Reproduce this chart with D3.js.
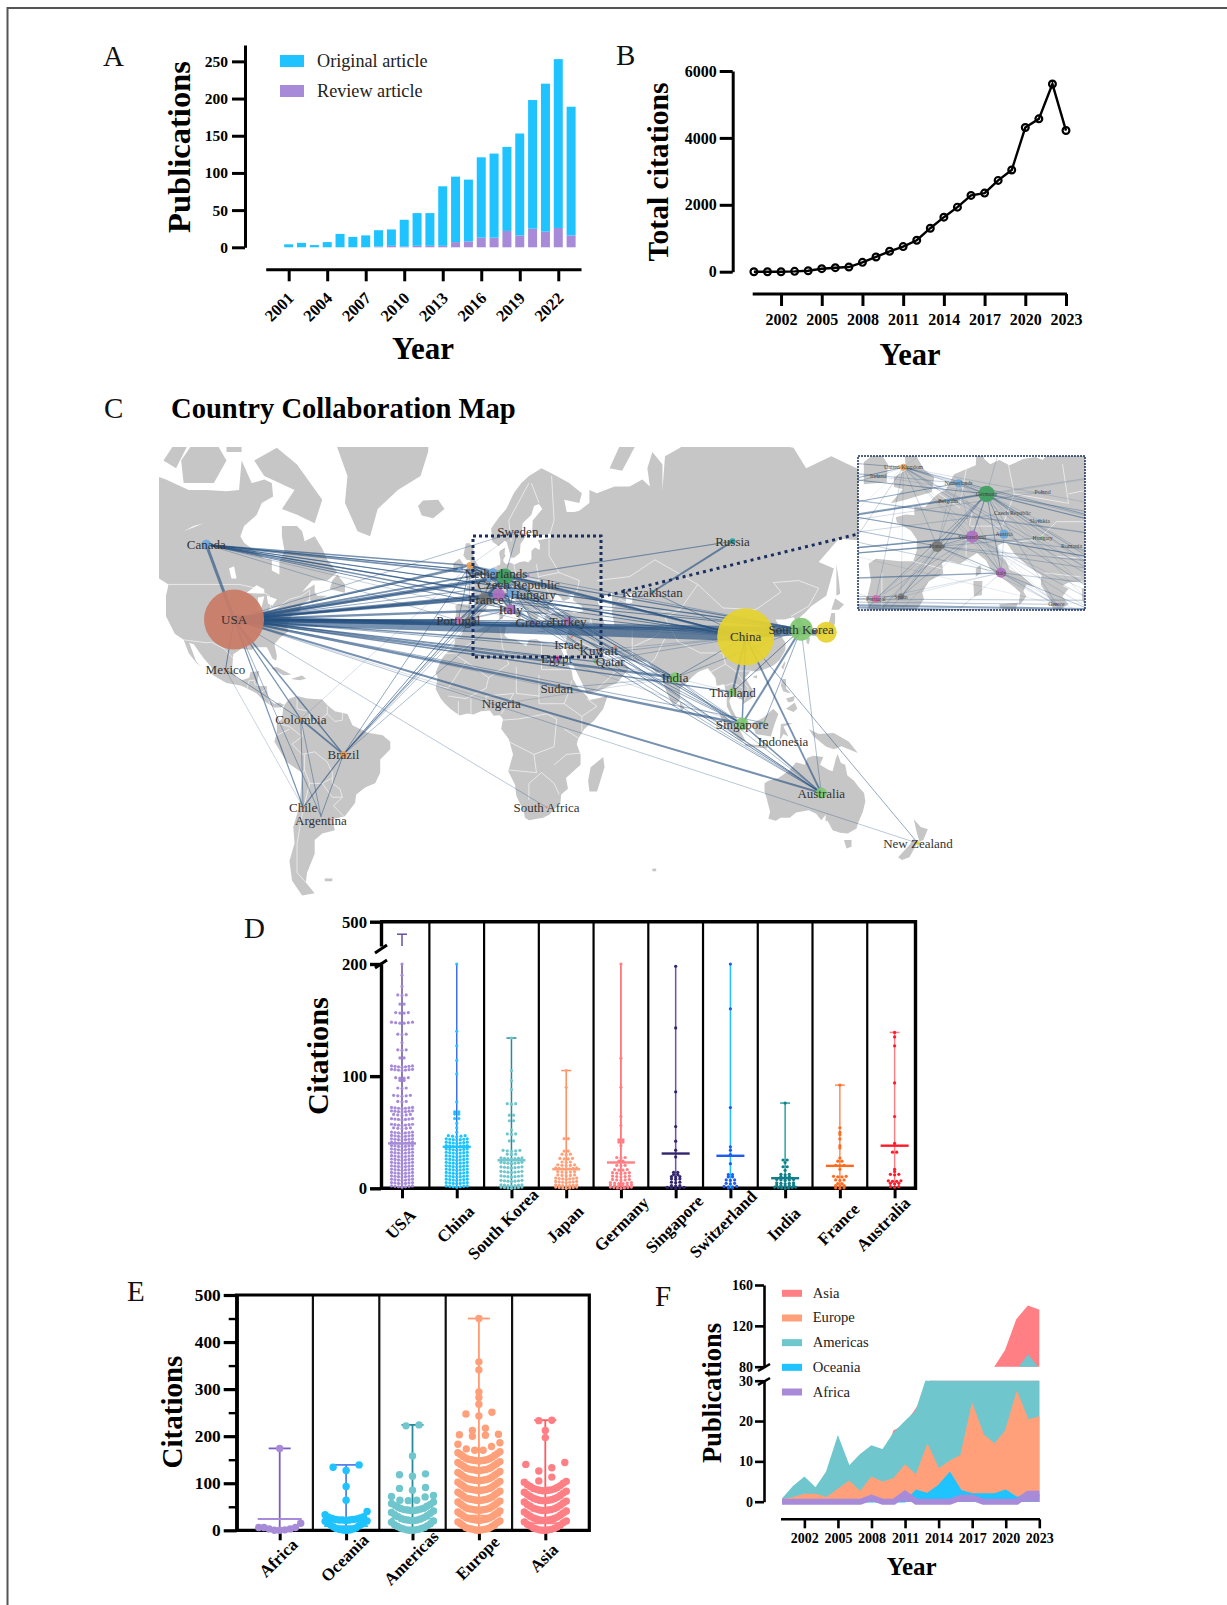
<!DOCTYPE html>
<html lang="en">
<head>
<meta charset="UTF-8">
<title>Publications and citations</title>
<style>
    html, body { margin: 0; padding: 0; background: #fff; }
    svg { display: block; font-family: "Liberation Serif", "Times New Roman", serif; }
</style>
</head>
<body>
<svg id="chart" width="1227" height="1605"></svg>
<script src="https://d3js.org/d3.v7.min.js"></script>
<script>
// panel A
const aYears = [2001,2002,2003,2004,2005,2006,2007,2008,2009,2010,2011,2012,2013,2014,2015,2016,2017,2018,2019,2020,2021,2022,2023];
const aOriginal = [4,6,3,7,18,14,16,22,22,36,44,44,80,88,83,108,113,113,137,173,199,227,173];
const aReview = [0,0,0,0,0,0,0,1,2,1,2,2,2,7,8,13,13,22,16,25,21,26,16];

// panel B
const bYears = [2000,2001,2002,2003,2004,2005,2006,2007,2008,2009,2010,2011,2012,2013,2014,2015,2016,2017,2018,2019,2020,2021,2022,2023];
const bCitations = [0,0,0,10,30,90,120,140,280,440,610,750,940,1300,1630,1930,2280,2350,2730,3040,4310,4570,5610,4220];

// panel C, countries: name, lon, lat, radius, colour
const countries = [
    ["USA",-97,39,30,"#c97b66"],["China",106,33.5,28.5,"#e6d22e"],["South Korea",128,36,11.5,"#80c870"],["Japan",138,35,10.5,"#e6d22e"],
    ["Germany",10.4,51,8.2,"#3f9f60"],["Canada",-108,58.3,5,"#6aa7e0"],["Russia",100.8,59,3,"#2aa3a3"],["Kazakhstan",69,47,2,"#2aa3a3"],
    ["India",78,19,5.5,"#80c870"],["Thailand",100.8,13.5,4,"#80c870"],["Singapore",104.6,1,6.5,"#80c870"],["Indonesia",113.3,1.5,1.5,"#80c870"],
    ["Australia",136,-25.5,5.5,"#80c870"],["New Zealand",174.4,-42,2,"#e6d22e"],["Brazil",-53.6,-11,3.5,"#f0a050"],["Colombia",-70.5,2.9,2,"#f0a050"],
    ["Chile",-69.6,-30.5,1.5,"#f0a050"],["Argentina",-62.5,-33.5,1,"#999999"],["Mexico",-100.4,22,1.5,"#e08060"],["Sweden",15.6,61,1,"#6aa7e0"],
    ["United Kingdom",-3.4,53.7,3.5,"#f0a050"],["Ireland",-7.6,52.8,1.8,"#6aa7e0"],["Netherlands",5.75,52.1,4,"#6aa7e0"],["Belgium",4,50.3,2,"#6aa7e0"],
    ["Czech Republic",14.7,49,1.5,"#6aa7e0"],["France",2.2,45.2,5.7,"#777777"],["Switzerland",8,46.3,6.2,"#b070c0"],["Hungary",19.7,46.2,1.5,"#80c870"],
    ["Austria",13.3,46.6,4.7,"#6aa7e0"],["Italy",12.8,42,5,"#b070c0"],["Poland",19.7,51.2,1.3,"#b070c0"],["Slovakia",19.2,48.1,2,"#6aa7e0"],
    ["Romania",24.5,45.2,1,"#e08060"],["Portugal",-8,38.7,3.8,"#d070b0"],["Spain",-3.8,39,3,"#777777"],["Greece",22,38,1.5,"#a070c0"],
    ["Turkey",35.5,38.5,4,"#a070c0"],["Israel",35.8,31,2,"#6aa7e0"],["Egypt",31,26,3,"#d050b0"],["Kuwait",47.7,29,1,"#e08060"],
    ["Qatar",46.3,24.9,1.5,"#3f9f60"],["Sudan",31,15,0.6,"#999999"],["Nigeria",9,9,0.6,"#999999"],["South Africa",27,-30.5,1,"#e08060"],
    ["Iran",54.2,30,1.5,"#e08060"],["Lebanon",37,33.5,1.2,"#e08060"]
];
const mainLabels = ["USA","China","South Korea","Canada","Russia","Kazakhstan","India","Thailand","Singapore","Indonesia","Australia","New Zealand","Brazil","Colombia","Chile","Argentina","Mexico","Sweden","Netherlands","Czech Republic","France","Hungary","Italy","Portugal","Greece","Turkey","Israel","Egypt","Kuwait","Qatar","Sudan","Nigeria","South Africa"];
const insetLabels = ["United Kingdom","Ireland","Netherlands","Belgium","Germany","Poland","Czech Republic","Slovakia","Hungary","Romania","Austria","Switzerland","France","Italy","Spain","Portugal","Greece"];
// collaboration links: from, to, strength
const links = [
    ["USA","China",9],["USA","South Korea",4],["USA","Japan",3],["USA","Germany",3.5],["USA","United Kingdom",1.8],["USA","Netherlands",1.8],["USA","France",2.4],["USA","Switzerland",3],["USA","Italy",2.4],["USA","Austria",1.2],["USA","Sweden",0.6],["USA","Turkey",1.2],["USA","Greece",1.2],["USA","Israel",1.5],["USA","Portugal",1.5],["USA","Spain",1.2],["USA","Egypt",0.8],["USA","Qatar",1.2],["USA","Kuwait",0.8],["USA","India",2.4],["USA","Singapore",2.4],["USA","Thailand",1.4],["USA","Indonesia",0.7],["USA","Australia",2],["USA","New Zealand",0.5],["USA","Canada",3],["USA","Mexico",1],["USA","Brazil",1.5],["USA","Colombia",1.2],["USA","Chile",1.2],["USA","Argentina",0.7],["USA","South Africa",0.5],["USA","Hungary",1],["USA","Czech Republic",0.8],["USA","Poland",0.7],["USA","Russia",0.4],["USA","Belgium",1],["USA","Ireland",1],["USA","Sudan",0.3],["USA","Nigeria",0.3],
    ["Canada","United Kingdom",1.4],["Canada","Ireland",0.9],["Canada","Germany",1.8],["Canada","Netherlands",1],["Canada","France",1.4],["Canada","Switzerland",1],["Canada","Italy",1],["Canada","China",1.5],["Canada","South Korea",1],["Canada","Japan",0.8],["Canada","Portugal",0.5],["Canada","Greece",0.4],
    ["China","South Korea",4.5],["China","Japan",3],["China","Singapore",1.5],["China","Thailand",2],["China","Australia",1.8],["China","Germany",2],["China","United Kingdom",1.5],["China","France",1],["China","Italy",1],["China","India",0.8],["China","Kazakhstan",0.8],["China","New Zealand",0.8],["China","Switzerland",1],["China","Netherlands",0.8],["China","Turkey",0.6],["China","Egypt",0.5],["China","Qatar",0.5],["China","Kuwait",0.4],["China","Portugal",0.3],
    ["South Korea","Japan",2],["South Korea","Singapore",2],["South Korea","Thailand",1],["South Korea","Indonesia",0.8],["South Korea","India",0.6],["South Korea","Germany",1.2],["South Korea","France",1],["South Korea","Australia",0.6],["South Korea","United Kingdom",0.6],["South Korea","Switzerland",0.9],
    ["Russia","Kazakhstan",2],["Russia","Germany",0.7],["Germany","Sweden",0.7],["United Kingdom","Sweden",0.3],
    ["India","Germany",0.8],["India","United Kingdom",0.8],["India","Italy",0.7],["India","Singapore",0.6],["India","Australia",0.6],["India","Sudan",0.5],["India","Qatar",0.4],["India","France",0.6],["India","Switzerland",0.5],["India","Thailand",0.3],["India","Nigeria",0.3],
    ["Singapore","Australia",1.5],["Singapore","United Kingdom",0.8],["Singapore","Germany",1],["Singapore","Switzerland",0.8],["Singapore","France",0.5],["Singapore","Turkey",0.4],["Singapore","Italy",0.4],["Singapore","Indonesia",0.7],["Singapore","Egypt",0.3],
    ["Australia","Germany",1],["Australia","United Kingdom",1],["Australia","Italy",0.8],["Australia","Switzerland",0.6],["Australia","Netherlands",0.5],
    ["Brazil","United Kingdom",0.8],["Brazil","Germany",0.8],["Brazil","Portugal",1],["Brazil","France",0.6],["Brazil","Italy",0.6],["Brazil","Spain",0.7],["Brazil","Colombia",1.8],["Brazil","Chile",1.2],["Brazil","Argentina",0.8],["Brazil","Switzerland",0.5],
    ["Colombia","Chile",0.8],["Colombia","Argentina",0.7],["Colombia","United Kingdom",0.3],["Mexico","Colombia",0.8],["Mexico","Chile",0.4],
    ["Germany","United Kingdom",1.2],["Germany","Netherlands",1.5],["Germany","France",1.5],["Germany","Switzerland",2],["Germany","Austria",1.5],["Germany","Italy",1.5],["Germany","Belgium",0.8],["Germany","Portugal",1.2],["Germany","Spain",1.5],["Germany","Czech Republic",0.8],["Germany","Slovakia",0.6],["Germany","Hungary",0.5],["Germany","Greece",0.8],["Germany","Turkey",0.6],["Germany","Poland",0.4],["Germany","Romania",0.4],["Germany","Ireland",0.5],["Germany","Israel",0.5],["Germany","Qatar",0.5],
    ["France","United Kingdom",0.8],["France","Italy",1],["France","Switzerland",1.2],["France","Spain",0.8],["France","Netherlands",0.6],["France","Belgium",0.5],["France","Austria",0.5],["France","Portugal",0.5],
    ["Switzerland","Italy",1.2],["Switzerland","Netherlands",0.5],["Switzerland","United Kingdom",0.6],["Switzerland","Austria",0.8],["Switzerland","Spain",1],["Switzerland","Portugal",0.8],["Switzerland","Greece",0.6],
    ["Italy","Austria",0.7],["Italy","Spain",0.5],["Italy","Portugal",0.6],["Italy","Greece",0.4],["Italy","United Kingdom",0.5],["Italy","Hungary",0.3],["Italy","Netherlands",0.5],
    ["United Kingdom","Netherlands",0.7],["United Kingdom","Ireland",0.5],["United Kingdom","Portugal",0.8],["United Kingdom","Spain",0.5],["United Kingdom","Greece",0.4],["Greece","Turkey",0.3]
];

// land outlines in lon/lat
const landRings = [
    [[-168,66],[-162,67],[-156,71],[-141,70],[-133,69.5],[-128,70],[-124,69.5],[-115,68],[-108,68],[-100,67.8],[-95,68],[-94,72],[-90,69],[-85,69.5],[-82,69],[-81.5,67],[-86,66],[-88,64],[-93,62],[-94.5,60],[-93,58.7],[-88,56.7],[-85,55.3],[-82,55],[-82,52.5],[-79,51.5],[-79,54.7],[-77,57],[-78,60],[-78,62],[-72,62],[-70,61],[-69,59],[-65,60],[-62,57.5],[-60,55],[-56,52],[-60,50],[-66,50],[-70,47],[-65,49],[-65,47],[-64,46],[-60,46],[-66,44],[-67,45],[-70,43.5],[-71,41.5],[-74,40.5],[-76,37],[-75.5,35.2],[-79,33],[-81,31],[-80,27],[-80.3,25.2],[-81.8,26],[-82.8,28],[-84,30],[-89,30],[-90,29],[-94,29.5],[-97.3,27.5],[-97.8,22],[-96,19],[-94,18],[-91,19],[-90.5,21],[-87,21.5],[-88,16],[-84,15.8],[-83.5,11],[-81,9],[-79,9.5],[-77,8.5],[-78.5,7.5],[-81,7.5],[-85,10],[-88,13],[-94,16],[-100,17],[-105.5,20],[-106,23],[-109,26],[-113,31],[-114.8,31.5],[-112,25],[-110,23],[-112,24.5],[-115,28],[-117,32.5],[-120.5,34.5],[-124,40],[-124,46],[-123,49],[-128,51],[-131,55],[-135,58],[-140,60],[-148,60.5],[-152,59],[-158,56],[-165,54.5],[-160,58.5],[-165,61],[-165,64]],
    [[-80,73.5],[-72,71.5],[-62,66.5],[-65,62.5],[-72,64],[-78,65],[-73,68],[-85,70],[-89,72]],
    [[-117,69],[-105,69],[-100,72],[-104,74],[-112,74.5],[-118,72]],[[-125,72],[-118,75],[-115,74],[-120,71]],[[-92,74],[-80,74],[-80,75.5],[-92,75.5]],[[-90,76],[-70,80],[-60,82],[-90,82]],[[-100,73],[-94,73],[-94,75],[-100,75]],
    [[-59,47.7],[-53,46.8],[-53,49],[-56,51.5],[-58,50]],[[-85,22],[-80,23],[-74.3,20.2],[-77.5,19.9],[-82,22.5]],[[-74.4,18.5],[-70,19.8],[-68.4,18.6],[-71,18]],
    [[-73,78.2],[-55,82],[-30,83.5],[-18,80],[-20,73],[-23,70],[-32,68],[-40,65],[-43,60],[-48,61],[-53,66],[-52,70],[-58,75],[-68,76]],
    [[-24,65.5],[-22,66.4],[-16,66.5],[-13.5,65],[-18,63.4],[-22.5,63.9]],
    [[-77,8.5],[-75,11],[-72,12],[-68,11],[-62,10.7],[-60,8.5],[-57,6],[-52,5],[-50,0.5],[-44,-2.5],[-38,-3.5],[-35,-6],[-35,-9],[-39,-13],[-39,-18],[-41,-22],[-45,-23.5],[-48.5,-26],[-49,-29],[-53,-33.5],[-58,-34.5],[-57,-38],[-62,-39],[-65,-41],[-65,-45],[-68,-50],[-68.5,-52.5],[-65,-55],[-70,-55.5],[-74,-52],[-75,-47],[-73,-42],[-73.5,-37],[-71,-30],[-70,-18],[-76,-14],[-81,-6],[-80,-2.5],[-80,1],[-78,3],[-77.5,7]],
    [[-61,-51.5],[-58,-51.5],[-58,-52.2],[-61,-52.2]],
    [[-5.9,35.8],[-2,35.2],[3,36.9],[10,37.3],[11,36.9],[10.3,34],[11.5,33],[15,32.4],[19,30.3],[20,32.5],[23,32.7],[25,31.7],[29,31],[32.3,31.3],[32.5,29.9],[34,27],[35.5,24],[37,21.5],[37.5,18.5],[39.5,15.2],[43,12],[44,10.5],[51.2,11.9],[49.5,7],[46,2.5],[42,-1],[39.5,-5],[39,-7],[40.5,-11],[40.5,-15],[37,-18],[34.7,-20],[35.5,-24],[32.8,-26],[32.5,-29],[28,-33],[25.6,-34],[20,-34.8],[18.4,-34],[18,-32],[15,-26.5],[14.5,-22.5],[11.8,-17.5],[13.7,-11],[13,-8.5],[12,-5],[9,-1],[9.7,3],[8.5,4.5],[6,4.3],[4.5,6.3],[1,6],[-2,4.8],[-4.5,5.2],[-7.5,4.4],[-11,6.8],[-13.3,9],[-15,11],[-17,14.7],[-16.2,19],[-17,21],[-14.5,26],[-13,27.7],[-9.7,30],[-9.3,32.5],[-6.7,34]],
    [[49.5,-12],[50,-16],[47,-25],[44,-25],[43.5,-21],[44.5,-16]],
    [[-9,37],[-9.5,38.7],[-8.8,41],[-9.2,43.1],[-8,43.7],[-4,43.4],[-1.8,43.4],[-1.2,44.7],[-1.2,46],[-2.2,47],[-4.5,47.9],[-4.7,48.5],[-3,48.8],[-1.6,48.7],[-1.6,49.7],[0.2,49.6],[1.6,50.6],[2.5,51.1],[3.6,51.4],[4.3,52.2],[5,53],[7,53.5],[8.6,53.9],[8.7,55],[8.2,56.5],[8.5,57],[10.6,57.7],[10.3,56.3],[10.8,56],[9.8,55],[10,54.5],[11,54],[12.5,54.4],[14.2,53.9],[16.5,54.5],[18.5,54.7],[19.7,54.4],[21,55.2],[21,57],[22.5,57.7],[24.3,57.2],[24.4,58.4],[23.5,59.2],[28,59.6],[30,60],[28,60.5],[25,60.2],[22.8,59.9],[21.3,60.8],[21.5,63],[25.3,65],[24,65.8],[22,65.5],[21,64],[17.5,62.5],[17.2,60.8],[18.8,60],[16.7,58.5],[16.4,56.5],[14.3,55.5],[13,55.4],[11.2,58.8],[10.3,59.2],[8,58],[5.5,58.9],[5,61.5],[8,63.5],[11,65],[14,67.5],[17,69],[20,70],[25,71],[31,70],[36,69],[41,67.5],[40,66],[34,66.5],[35,64.5],[38,64.5],[40,64.7],[44,66],[44,68],[47,67.5],[54,68.5],[60,68.5],[65,69.5],[68,68.5],[67,71],[69,73],[73,71.5],[73,68],[74,72.5],[80,73.5],[87,75],[100,76.5],[105,77.5],[113,74],[125,73.5],[130,71],[140,72.5],[150,71],[160,70],[170,70],[180,69],[180,65],[178,62.5],[170,60],[163,60],[163,56],[157,51],[156,57],[160,61],[155,59],[143,59.5],[135,54.5],[141,53],[138,46],[132,43],[129.5,41],[127.5,39.7],[129.3,36],[126.5,34.5],[126.5,37.5],[125,39.7],[121.5,39],[117.8,39],[119,37.5],[122.5,37],[120.5,36],[119.3,34.8],[121.8,31.5],[121.8,29],[119.5,25.5],[117,23.5],[114,22.3],[110.5,21.3],[108,21.5],[105.8,19],[109,14],[109,11.5],[105,8.8],[105,10.5],[103,11],[100.9,13.5],[99.5,10],[100.5,7],[103.5,1.5],[101,3],[98.5,8],[98.5,12],[97.5,16.5],[94.5,16],[94,19],[91,22.5],[88.5,21.7],[87,21],[85,19.5],[82,16.5],[80,15],[80,11],[79,9.5],[77.5,8],[76,10.5],[74.5,14],[73,18],[72.7,21],[70.5,20.8],[69,22.5],[67,25],[61,25],[57,26],[56.5,27],[51,28],[48,30],[50,26],[51.5,24.5],[54,24],[56.3,26],[59.8,22.5],[55,17],[45,13],[43,13],[39,21],[35,28],[34.5,31.5],[36,36.5],[34,36.2],[32,36.1],[30.5,36.5],[28.5,36.7],[27.3,37],[26.3,38.5],[26.2,40],[29,40.5],[29,41],[31.5,41.2],[35,42],[38,41],[41.5,41.5],[41,43],[37.5,44.7],[38,46.5],[39,47],[35,46],[36.5,45.2],[33.5,44.5],[32.7,45.4],[30.7,46.5],[28.7,44.5],[28,43],[28,41.7],[29,41.2],[27,40.7],[26.2,41],[24,40.8],[23,40.4],[24,40],[23,39],[24,38],[23,37.5],[22.5,36.5],[21.5,37],[21,38.5],[19.4,40.5],[19.5,41.7],[17,43],[15,44.3],[14,45.3],[13.6,45.7],[12.3,45.3],[12.4,44.3],[13.6,43.5],[14.2,42.4],[16,41.8],[18.4,40.2],[17,40.5],[16.5,39.7],[17,39],[16,38],[15.7,38],[16,39.5],[15,40.2],[14,40.8],[12.3,41.7],[11,42.5],[10.3,43.5],[8.8,44.4],[7.5,43.8],[6,43.1],[4,43.5],[3,43.2],[3.2,41.9],[0.8,41],[-0.3,39.5],[0,38.7],[-0.8,37.7],[-2,36.8],[-4.5,36.7],[-5.6,36],[-6.3,36.7],[-7.4,37.2]],
    [[-5.5,50],[-3.5,50.3],[1.3,51.2],[1.7,52.7],[0,53.5],[-1.5,55],[-2,56],[-2,57.5],[-3.5,58.6],[-5,58.6],[-6,56],[-4.8,55],[-3.2,54.9],[-3,53.4],[-5,52.7],[-5,51.7],[-3.5,51.5]],[[-10,52],[-6.2,52.2],[-6,54],[-7.5,55.3],[-10,54.2]],
    [[8.6,41.5],[9.5,42],[9.4,43],[8.6,42.5]],[[8.3,39],[9.6,39.2],[9.7,41],[8.2,41]],[[12.5,38],[15.6,38.2],[15,36.7],[12.6,37.6]],[[23.5,35.5],[26.3,35.3],[26.3,35],[23.5,35.2]],
    [[52,71],[57,70.7],[68,76.5],[60,76]],[[142,54],[143,50],[143.5,46.5],[142,46],[142,50]],[[130.9,34],[136,33.5],[140,35],[141.5,38],[141.5,41],[140,41],[139,38],[136,36.5],[132,35.5]],[[140,42],[141.5,45.3],[145,43.5],[143,42]],[[130,33],[131.7,33.3],[131,31],[130.2,31.3]],[[120.2,23],[121.5,25],[121.8,24.5],[120.9,22]],[[108.7,19.3],[110.5,20],[110.5,18.7]],[[79.8,8],[80,9.7],[81.8,7.5],[80.5,6]],
    [[95.3,5.5],[98,4],[104,-2],[106,-5.8],[104,-5.5],[100,-2],[97,2]],[[105.5,-6.8],[114.5,-7.7],[114.5,-8.7],[106,-7.7]],[[109,1.5],[113,3.5],[117,7],[119,5],[117.5,1],[116,-4],[110,-3],[109,0]],[[119.5,-5.5],[120,1],[125,1.5],[121,0],[123,-4],[121,-3]],[[131,-1],[135,-3],[141,-2.6],[147,-6],[150.5,-10.5],[144,-7.8],[141,-9],[138,-8],[133,-4]],[[120.5,18.5],[122,18.5],[122,15],[124,13],[121,13.8],[120,16]],[[122,7],[125.5,9.5],[126.5,7],[125,5.7]],[[122,11],[125.5,12],[125,10],[123,9.5]],
    [[113.5,-22],[115,-21],[119,-20],[122,-18],[123.5,-17],[126,-14],[129.5,-15],[130.5,-12.3],[133,-11.5],[136.8,-12],[135.5,-15],[139,-17],[140.5,-17.5],[141.7,-13],[142.5,-10.8],[143.8,-14.3],[145.5,-15],[146.3,-19],[149,-21],[151,-23.5],[153,-25.5],[153.5,-28.5],[152.5,-32],[150.5,-36],[150,-37.5],[146.5,-39],[143.5,-38.8],[140.5,-38],[138.5,-35],[137.7,-35.2],[137.8,-33],[136,-34.8],[134,-32.7],[131,-31.5],[126,-32.3],[123.5,-34],[119.8,-34],[118,-35],[115,-34.3],[115.7,-32],[114.2,-27],[113.5,-25]],
    [[145,-41],[148,-41],[148,-43],[146,-43.5]],[[172.7,-34.5],[175.5,-37],[178.3,-37.7],[176.5,-41],[175,-41.5],[174,-39]],[[172.5,-40.7],[174.3,-41.7],[171,-46],[168,-46.7],[166.5,-46],[171,-42.5]],[[69,-49],[70.5,-49],[70.5,-49.7],[69,-49.7]]
];
const lakeRings = [
    [[-92,46.8],[-88,48.8],[-85,47.7],[-85,46.6],[-88,46.6]],[[-87.7,41.8],[-86.3,42],[-85,45.8],[-87.5,45.5]],[[-84,46],[-80,45],[-81.7,43.2],[-83.5,43.7]],[[-83,41.6],[-79,42.8],[-79,43],[-83,42.2]],
    [[47,45],[53,46.8],[53,41],[54,37],[50,37.5],[49,40.5]],[[58.5,46.5],[61,46.5],[61,44],[58.5,44]],[[-98,50.5],[-96,50.5],[-97,53.5],[-99,53]],[[-117,61],[-109,62.5],[-113,62]]
];
const borderLines = [
    [[-123,49],[-95,49],[-88,48],[-83,46],[-82.5,42.5],[-79,43],[-75,45],[-70,46],[-67,47.5],[-67,45]],[[-141,70],[-141,60],[-130,55]],[[-117,32.5],[-108,31.5],[-106,31.7],[-101,29.5],[-97.3,26]],[[-92,14.5],[-91,18],[-89,18],[-88.5,16]],[[-83.5,15],[-87,13]],[[-83,9],[-83,11]],
    [[-72,12],[-72,7],[-67,6],[-67,1.5]],[[-60,8],[-60,5],[-64,2],[-70,1.5],[-70,-4],[-74,-7],[-70,-11],[-65,-10],[-60,-14],[-58,-18],[-58,-22],[-55,-24],[-54,-27],[-57.5,-30],[-53.5,-33.5]],[[-79,1],[-75,0],[-70,-4]],[[-80,-3.5],[-75,-1]],[[-69,-11],[-69,-17],[-70,-18]],[[-69,-17],[-67,-22],[-70,-33],[-72,-42],[-72,-50],[-68.5,-52.5]],[[-67,-22],[-62,-22],[-58,-20]],[[-62,-22],[-58,-27],[-54,-27]],[[-60,5],[-57,2],[-54,2.5],[-54,5.5]],
    [[-2,35],[-2,32],[-8.7,28],[-13,27.7]],[[-8.7,27],[-5,25],[-12,15],[-16.5,16]],[[8.5,37],[9.5,30],[12,24],[4,19],[-5,25]],[[25,31.5],[25,22],[37,22]],[[24,20],[24,9],[34,9],[36,14],[37,18]],[[15,23],[15,13],[24,12]],[[3,12],[14,13],[9,5]],[[3,12],[3,6.5]],[[4,19],[3,15],[-5,11],[-12,12]],[[-8,4.5],[-8,10]],[[-3,5],[-3,11]],[[9,2.5],[16,3],[27,5],[31,3],[30,-8],[22,-11],[12,-6]],[[12,-17],[23,-18],[22,-11]],[[30,-15],[35,-11],[40.5,-10.5]],[[30,-22],[32,-26]],[[20,-28],[20,-22],[25,-18],[30,-22]],[[34,9],[41,4],[47,8],[43,11]],[[34,-1],[39.5,-4.5]],[[41,4],[41,-2]],
    [[74,39.5],[80,42],[87,49],[97,42.5],[110,42],[120,47],[117,49.5],[127,50],[135,48],[131,43],[124,40]],[[47,50],[60,51],[70,55],[87,49]],[[53,42],[56,45],[62,43],[70,41],[80,42]],[[74,39.5],[79,32],[88,28],[97,28],[98,24],[102,21.5],[108,21.5]],[[74,33],[70,26],[68,24]],[[44.5,39.5],[46,33],[48,30]],[[61,37],[61,25]],[[61,37],[54,37]],[[61,30],[71,34],[74,37]],[[36,36.5],[44,37],[44.5,39.5]],[[35,29],[39,32],[47,29],[51,24]],[[45,13],[52,19],[55,22]],[[98,24],[92,21]],[[98,16],[101,17],[105,15],[103,11]],[[102,21.5],[107,15],[105.5,10.5]],
    [[28,60],[28,56],[32,52],[40,50],[39,47]],[[24,51],[32,52]],[[14,54],[15,51],[24,50],[23,54]],[[7,53.5],[6,50],[8,49],[7.5,47.5],[13,47.5],[15,51]],[[-1.8,43.4],[3,42.5]],[[-7,42],[-7,37]],[[7,44],[7,46],[13,46.5]],[[13.5,45.5],[19,46],[22,48],[27,48],[29,45]],[[22,44],[28.5,43.7]],[[20,42],[26,41.5]],[[2.5,51],[6,49.5]],[[13,59],[12,63],[20,69]],[[24,66],[21,69]],[[28,60],[30,63],[29,70]]
];

// panel D, bins of [citations, papers]
const dCategories = ["USA","China","South Korea","Japan","Germany","Singapore","Switzerland","India","France","Australia"];
const dUsa = [[200,1],[190,1],[180,1],[172,3],[164,2],[156,4],[147,6],[137,3],[130,1],[123,3],[116,2],[108,7],[105,7],[98,4],[96,2],[89,3],[82,5],[77,3],[71,7],[68,7],[65,5],[61,7],[56,7],[53,5],[49,7],[46,7],[43,7],[40,7],[37,7],[34,7],[31,7],[28,7],[25,7],[22,7],[19,7],[16,7],[13,7],[10,7],[7,7],[4,7],[1,7]];
const dChina = [[200,1],[140,1],[127,1],[114,1],[102,1],[77,1],[68,2],[66,2],[62,2],[58,1],[54,1],[50,1],[46,5],[43,7],[40,7],[37,7],[34,7],[31,7],[28,7],[25,7],[22,7],[19,7],[16,7],[13,7],[10,7],[7,7],[4,7],[1,7]];
const dKorea = [[134,1],[105,1],[96,1],[88,1],[75,3],[65,2],[60,2],[52,1],[48,3],[42,2],[33,5],[30,3],[26,7],[22,7],[18,7],[14,7],[10,7],[6,7],[2,7],[0,7]];
const dJapan = [[105,1],[90,1],[44,2],[33,2],[30,3],[26,4],[23,3],[20,5],[17,7],[14,5],[11,5],[8,7],[5,7],[2,7],[0,7]];
const dGermany = [[200,1],[116,1],[90,1],[64,1],[56,1],[43,2],[41,2],[38,1],[27,3],[24,2],[20,3],[16,4],[13,5],[10,5],[7,5],[4,6],[2,6],[0,7]];
const dSingapore = [[198,1],[143,1],[86,1],[55,1],[42,1],[34,1],[28,1],[14,2],[12,2],[10,3],[8,3],[5,3],[2,3],[0,5]];
const dSwitzerland = [[200,1],[160,1],[72,1],[37,1],[34,1],[30,1],[22,1],[12,2],[10,2],[7,3],[4,3],[1,4],[0,2]];
const dIndia = [[76,1],[25,2],[23,1],[19,2],[16,1],[12,3],[10,3],[7,5],[4,5],[2,5],[0,7]];
const dFrance = [[92,1],[54,1],[50,1],[48,1],[44,1],[38,1],[36,1],[27,1],[24,2],[20,3],[17,1],[10,4],[7,3],[4,2],[2,3],[0,3]];
const dAustralia = [[139,1],[135,1],[127,1],[94,1],[64,1],[40,1],[32,2],[17,1],[15,1],[12,3],[6,4],[4,3],[1,3]];
const dBins = [dUsa,dChina,dKorea,dJapan,dGermany,dSingapore,dSwitzerland,dIndia,dFrance,dAustralia];
const dMedian = [40,37,25,17,23,31,29,9,20,38];
const dMax = [348,200,134,105,200,198,200,76,92,139];
const dDotColors = ["#a78bd8","#1ec3ff","#70c6cd","#ffa07a","#ff7f85","#33246e","#1f5bf0","#0f7f8a","#ff6a1f","#ff1a2a"];
const dLineColors = ["#6a4fa0","#3a6ff0","#2a8a9a","#ff8c5a","#ff5a5f","#6a4fc0","#1ec3ff","#2aa3a8","#ff8c5a","#ff7f85"];

// panel E, citations of single papers
const eCategories = ["Africa","Oceania","Americas","Europe","Asia"];
const eAfrica = [174,15,6,6,6,3,3,1,0,0];
const eOceania = [139,134,127,93,64,40,33,29,28,26,25,24,23,23,22,22,22,21,20,19,17,15,13,11,9,7,5,4,3,2,1,1,0,0];
const eAmericas = [224,222,158,120,118,115,91,89,85,74,72,71,64,64,63,60,57,55,53,51,49,47,46,45,44,43,43,42,42,41,38,36,33,31,29,27,25,24,23,22,22,21,21,20,17,14,12,10,8,6,5,4,3,2,1,1,0,0];
const eEurope = [450,358,341,294,282,268,251,247,243,217,212,204,203,202,200,186,183,178,173,170,170,
    167,165,163,161,159,157,155,153,152,151,150,150,149,149,148,148,147,
    146,144,142,140,138,136,134,132,131,130,129,129,128,128,127,127,
    125,123,121,119,117,115,113,111,110,109,108,108,107,107,106,106,105,
    104,102,100,98,96,94,92,90,89,88,87,87,86,86,85,85,84,
    83,81,79,77,75,73,71,69,68,67,66,66,65,65,64,64,63,
    62,60,58,56,54,52,50,48,47,46,45,45,44,44,43,43,42,
    41,39,37,35,33,31,29,27,26,25,24,24,23,23,22,22,21,
    20,18,16,14,12,10,8,6,5,4,3,3,2,2,1,0,0];
const eAsia = [234,233,212,197,144,140,133,126,113,105,
    104,102,100,97,95,93,91,89,88,87,86,85,85,84,84,
    83,81,79,76,74,72,70,68,67,66,65,64,64,63,63,
    62,60,58,55,53,51,49,47,46,45,44,43,43,42,42,
    41,39,37,34,32,30,28,26,25,24,23,22,22,21,21,
    20,18,16,13,11,9,7,5,4,3,2,1,1,0,0];
const eValues = [eAfrica,eOceania,eAmericas,eEurope,eAsia];
const eMedian = [24,9,25,31,15];
const eMax = [174,139,224,450,234];
const eDotColors = ["#a78bd8","#1ec3ff","#70c6cd","#ffa07a","#ff7f85"];
const eLineColors = ["#7b5fc0","#5a7ff0","#2a8a9a","#ff9a70","#ff5a5f"];

// panel F
const fYears = [2000,2001,2002,2003,2004,2005,2006,2007,2008,2009,2010,2011,2012,2013,2014,2015,2016,2017,2018,2019,2020,2021,2022,2023];
const fAsia = [0.5,1,2,1,3,7,5,6,8,8,17.5,19,23,27,37,36,42,42,55,79,96,126,139,135];
const fAmericas = [0.5,3.7,6,3.3,7.4,16,8.7,11.6,13.8,12.8,17,19.8,22.5,31,35,38,45,50,52,60,68,76,91,77];
const fEurope = [0.5,1,1.8,1.8,1,3,5,2.4,6,4.8,5.7,9,6.5,14,8,10,11.5,24,16.5,14.2,17.6,27,20.2,21];
const fOceania = [0,0,0,0,0,0,0,0,0,0,0,0,2.8,2,4,7.2,2.7,1.9,1.9,1.9,2.8,1,2,1.7];
const fAfrica = [0,0,0,0,0,0,0,0,1,0,0,2,0,0,0,0,1,1,0,0,0,0,2,2];
const fSeries = ["Asia","Europe","Americas","Oceania","Africa"];

const blue = "#1ec3ff", purple = "#a78bd8", teal = "#70c6cd", orange = "#ffa07a", pink = "#ff7f85";
const svg = d3.select("#chart");

// shared helpers
function styleAxis(g, fontSize, lineWidth) {
    g.selectAll("path.domain").attr("stroke", "#000").attr("stroke-width", lineWidth).attr("fill", "none");
    g.selectAll(".tick line").attr("stroke", "#000").attr("stroke-width", lineWidth);
    g.selectAll(".tick text").attr("fill", "#000").attr("font-family", "Liberation Serif").attr("font-weight", "bold").attr("font-size", fontSize);
}
function title(text, x, y, size, rotate, weight) {
    svg.append("text").attr("transform", "translate(" + x + "," + y + ")" + (rotate ? " rotate(" + rotate + ")" : ""))
        .attr("text-anchor", "middle").attr("dy", rotate ? "0.35em" : 0).attr("font-size", size).attr("font-weight", weight || "bold").attr("fill", "#000").text(text);
}
function panelLetter(text, x, y) {
    svg.append("text").attr("x", x).attr("y", y).attr("font-size", 29).attr("fill", "#111").text(text);
}
function slantLabels(g, dx, y, fontSize, shifts) {
    g.selectAll(".tick text").attr("text-anchor", "middle").attr("x", 0).attr("y", 0).attr("dy", "0.35em")
        .attr("font-size", fontSize)
        .attr("transform", (d, i) => "translate(" + (dx + (shifts ? shifts[i] : 0)) + "," + y + ") rotate(-45)");
}
function swarmOffsets(n, step) {
    const offsets = d3.range(n).map(i => (i - (n - 1) / 2) * step);
    return offsets.sort((a, b) => Math.abs(a) - Math.abs(b) || a - b);
}

// page frame
svg.append("path").attr("d", "M7.5,1605V8H1227").attr("fill", "none").attr("stroke", "#555").attr("stroke-width", 2);

// A
panelLetter("A", 103, 66);
const xA = d3.scaleLinear().domain([1999.21, 2023.77]).range([265.7, 581]);
const yA = d3.scaleLinear().domain([0, 272]).range([247.3, 45]);
const aTable = aYears.map((y, i) => ({year: y, review: aReview[i], original: aOriginal[i]}));
const aStack = d3.stack().keys(["review", "original"])(aTable);
svg.append("g").selectAll("g").data(aStack).join("g").attr("fill", d => d.key === "review" ? purple : blue)
    .selectAll("rect").data(d => d).join("rect")
    .attr("x", d => xA(d.data.year) - 4.5).attr("width", 9)
    .attr("y", d => yA(d[1])).attr("height", d => yA(d[0]) - yA(d[1]));
const aLeft = svg.append("g").attr("transform", "translate(245,0)")
    .call(d3.axisLeft(yA).tickValues([0,50,100,150,200,250]).tickSize(13).tickSizeOuter(0).tickPadding(4));
styleAxis(aLeft, 15.5, 3);
const aBottom = svg.append("g").attr("transform", "translate(0,269.3)")
    .call(d3.axisBottom(xA).tickValues(d3.range(2001, 2023, 3)).tickFormat(d3.format("d")).tickSize(12).tickSizeOuter(0));
styleAxis(aBottom, 16.5, 3);
slantLabels(aBottom, -10, 37.5, 16.5);
title("Publications", 179, 147, 32.6, -90);
title("Year", 423, 359, 31);
[["Original article", blue, 61], ["Review article", purple, 91]].forEach(d => {
    svg.append("rect").attr("x", 280).attr("y", d[2] - 6).attr("width", 24).attr("height", 12).attr("fill", d[1]);
    svg.append("text").attr("x", 317).attr("y", d[2] + 6).attr("font-size", 18.2).attr("fill", "#222").text(d[0]);
});

// B
panelLetter("B", 616, 65);
const xB = d3.scaleLinear().domain([2000, 2023]).range([753.9, 1066]);
const yB = d3.scaleLinear().domain([0, 6000]).range([271.7, 71]);
const bLeft = svg.append("g").attr("transform", "translate(732.7,0)")
    .call(d3.axisLeft(yB).tickValues([0,2000,4000,6000]).tickFormat(d3.format("d")).tickSize(13).tickSizeOuter(0).tickPadding(3));
styleAxis(bLeft, 16, 3);
const bBottom = svg.append("g").attr("transform", "translate(0,294)")
    .call(d3.axisBottom(xB).tickValues(d3.range(2002, 2024, 3)).tickFormat(d3.format("d")).tickSize(12).tickSizeOuter(0).tickPadding(8));
bBottom.select("path.domain").attr("d", "M752.7,0H1067");
styleAxis(bBottom, 16, 3);
svg.append("path").datum(bCitations).attr("fill", "none").attr("stroke", "#000").attr("stroke-width", 2.4)
    .attr("d", d3.line().x((d, i) => xB(bYears[i])).y(d => yB(d)));
svg.append("g").selectAll("circle").data(bCitations).join("circle")
    .attr("cx", (d, i) => xB(bYears[i])).attr("cy", d => yB(d)).attr("r", 3.4)
    .attr("fill", "none").attr("stroke", "#000").attr("stroke-width", 2.2);
title("Total citations", 658, 172, 29.6, -90);
title("Year", 910, 365, 30.5);

// C
panelLetter("C", 104, 418);
svg.append("text").attr("x", 171).attr("y", 418).attr("font-size", 28.6).attr("font-weight", "bold").attr("fill", "#000").text("Country Collaboration Map");
const defs = svg.append("defs");
defs.append("clipPath").attr("id", "mapClip").append("rect").attr("x", 159).attr("y", 447).attr("width", 926).attr("height", 460);
defs.append("clipPath").attr("id", "insetClip").append("rect").attr("x", 858).attr("y", 456).attr("width", 227).attr("height", 154);

const countryByName = new Map(countries.map(d => [d[0], d]));
function drawMap(clipId, projection, linkScale, linkOpacity, labels, labelSize, labelColor, labelShift) {
    const g = svg.append("g").attr("clip-path", "url(#" + clipId + ")");
    const ring = d3.line().x(d => projection(d)[0]).y(d => projection(d)[1]);
    g.append("g").selectAll("path").data(landRings).join("path").attr("d", d => ring(d) + "Z").attr("fill", "#c6c6c6");
    g.append("g").selectAll("path").data(lakeRings).join("path").attr("d", d => ring(d) + "Z").attr("fill", "#fff");
    g.append("g").selectAll("path").data(borderLines).join("path").attr("d", ring).attr("fill", "none").attr("stroke", "#fff").attr("stroke-width", 0.7).attr("stroke-opacity", 0.85);
    g.append("g").selectAll("line").data(links).join("line")
        .attr("x1", d => projection(countryByName.get(d[0]).slice(1, 3))[0]).attr("y1", d => projection(countryByName.get(d[0]).slice(1, 3))[1])
        .attr("x2", d => projection(countryByName.get(d[1]).slice(1, 3))[0]).attr("y2", d => projection(countryByName.get(d[1]).slice(1, 3))[1])
        .attr("stroke", "#234f80").attr("stroke-opacity", linkOpacity).attr("stroke-width", d => d[2] * linkScale);
    g.append("g").selectAll("circle").data(countries).join("circle")
        .attr("cx", d => projection(d.slice(1, 3))[0]).attr("cy", d => projection(d.slice(1, 3))[1])
        .attr("r", d => d[3]).attr("fill", d => d[4]).attr("fill-opacity", 0.92);
    g.append("g").selectAll("text").data(labels).join("text")
        .attr("x", d => projection(countryByName.get(d).slice(1, 3))[0] + (labelShift[d] ? labelShift[d][0] : 0))
        .attr("y", d => projection(countryByName.get(d).slice(1, 3))[1] + (labelShift[d] ? labelShift[d][1] : 0))
        .attr("text-anchor", "middle").attr("dy", "0.35em").attr("font-size", labelSize).attr("fill", labelColor).text(d => d);
}
const mapShift = {"Indonesia": [19, 19], "Qatar": [15, 0], "Czech Republic": [3, 0], "Hungary": [5, 0], "Argentina": [0, 4], "France": [2, 1], "Netherlands": [3, 1]};
drawMap("mapClip", d3.geoMercator().scale(144.4).translate([478.5, 726.5]), 1, 0.62, mainLabels, 13, "#333", mapShift);

// dotted zoom rectangle and its leader line
svg.append("rect").attr("x", 473).attr("y", 536).attr("width", 128).attr("height", 121).attr("fill", "none").attr("stroke", "#1a2f5f").attr("stroke-width", 3).attr("stroke-dasharray", "3,3");
svg.append("line").attr("x1", 601).attr("y1", 597).attr("x2", 858).attr("y2", 534).attr("stroke", "#1a2f5f").attr("stroke-width", 3).attr("stroke-dasharray", "3,4");
svg.append("rect").attr("x", 858).attr("y", 456).attr("width", 227).attr("height", 154).attr("fill", "#fff");
drawMap("insetClip", d3.geoMercator().scale(345).translate([924, 852]), 0.55, 0.5, insetLabels, 5.8, "#444", {});
svg.append("rect").attr("x", 858).attr("y", 456).attr("width", 227).attr("height", 154).attr("fill", "none").attr("stroke", "#1a2f5f").attr("stroke-width", 1.5).attr("stroke-dasharray", "2,1");

// D
panelLetter("D", 244, 938);
const xD = d3.scalePoint().domain(dCategories).range([402, 894.6]);
const yD = d3.scaleLinear().domain([0, 200]).range([1188.3, 964]);
const yDTop = d3.scaleLinear().domain([205, 500]).range([946, 921.7]);
const dSeparators = dCategories.slice(0, -1);
svg.append("g").selectAll("line").data(dSeparators).join("line")
    .attr("x1", d => xD(d) + xD.step() / 2).attr("x2", d => xD(d) + xD.step() / 2)
    .attr("y1", 921.7).attr("y2", 1188.3).attr("stroke", "#000").attr("stroke-width", 2.2);
svg.append("path").attr("d", "M380,921.7H915.5V1188.3H380").attr("fill", "none").attr("stroke", "#000").attr("stroke-width", 3.4);
const dLeft = svg.append("g").attr("transform", "translate(381,0)")
    .call(d3.axisLeft(yD).tickValues([0,100,200]).tickSize(11).tickSizeOuter(0).tickPadding(3));
styleAxis(dLeft, 16.7, 3.4);
const dLeftTop = svg.append("g").attr("transform", "translate(381,0)")
    .call(d3.axisLeft(yDTop).tickValues([500]).tickSize(11).tickSizeOuter(0).tickPadding(3));
styleAxis(dLeftTop, 16.7, 3.4);
svg.append("path").attr("d", "M375,953L387,945M375,968L387,960").attr("stroke", "#000").attr("stroke-width", 3);
const dBottom = svg.append("g").attr("transform", "translate(0,1188.3)")
    .call(d3.axisBottom(xD).tickSize(10).tickSizeOuter(0));
dBottom.select("path.domain").remove();
styleAxis(dBottom, 17, 3);
slantLabels(dBottom, -2, 35.7, 17, [0,0,-7,0,2,0,-6,0,0,-10]);
dCategories.forEach((name, i) => {
    const cx = xD(name), g = svg.append("g");
    const top = Math.min(dMax[i], 200);
    g.append("line").attr("x1", cx).attr("x2", cx).attr("y1", yD(0)).attr("y2", yD(top)).attr("stroke", dLineColors[i]).attr("stroke-width", 1.5);
    if (dMax[i] > 200) {
        g.append("line").attr("x1", cx).attr("x2", cx).attr("y1", yDTop(205)).attr("y2", yDTop(dMax[i])).attr("stroke", dLineColors[i]).attr("stroke-width", 1.5);
        g.append("line").attr("x1", cx - 5).attr("x2", cx + 5).attr("y1", yDTop(dMax[i])).attr("y2", yDTop(dMax[i])).attr("stroke", dLineColors[i]).attr("stroke-width", 1.5);
    } else if (dMax[i] < 195) {
        g.append("line").attr("x1", cx - 5).attr("x2", cx + 5).attr("y1", yD(dMax[i])).attr("y2", yD(dMax[i])).attr("stroke", dLineColors[i]).attr("stroke-width", 1.5);
    }
    dBins[i].forEach(bin => {
        const offsets = swarmOffsets(bin[1], Math.min(4.2, 21 / Math.max(bin[1] - 1, 1)));
        g.append("g").selectAll("circle").data(offsets).join("circle")
            .attr("cx", d => cx + d).attr("cy", d => yD(bin[0]) - Math.abs(d) * 0.12).attr("r", 1.6).attr("fill", dDotColors[i]);
    });
    g.append("line").attr("x1", cx - 14).attr("x2", cx + 14).attr("y1", yD(dMedian[i])).attr("y2", yD(dMedian[i])).attr("stroke", dDotColors[i]).attr("stroke-width", 2.4);
});
title("Citations", 317, 1056, 30.3, -90);

// E
panelLetter("E", 127, 1301);
const xE = d3.scalePoint().domain(eCategories).range([279.7, 545.3]);
const yE = d3.scaleLinear().domain([0, 500]).range([1530.3, 1295]);
svg.append("g").selectAll("line").data(eCategories.slice(0, -1)).join("line")
    .attr("x1", d => xE(d) + xE.step() / 2).attr("x2", d => xE(d) + xE.step() / 2)
    .attr("y1", 1295).attr("y2", 1530.3).attr("stroke", "#111").attr("stroke-width", 2.2);
svg.append("path").attr("d", "M236.7,1295H589.3V1530.3H236.7Z").attr("fill", "none").attr("stroke", "#000").attr("stroke-width", 3.2);
const eMinor = svg.append("g").attr("transform", "translate(236.7,0)")
    .call(d3.axisLeft(yE).tickValues([50,150,250,350,450]).tickSize(8).tickFormat("").tickSizeOuter(0));
styleAxis(eMinor, 17, 2.4);
const eLeft = svg.append("g").attr("transform", "translate(236.7,0)")
    .call(d3.axisLeft(yE).tickValues([0,100,200,300,400,500]).tickSize(13).tickSizeOuter(0).tickPadding(3));
styleAxis(eLeft, 17.3, 3.2);
const eBottom = svg.append("g").attr("transform", "translate(0,1530.3)")
    .call(d3.axisBottom(xE).tickSize(10).tickSizeOuter(0));
eBottom.select("path.domain").remove();
styleAxis(eBottom, 17, 3);
slantLabels(eBottom, -2, 27.5, 17);
eCategories.forEach((name, i) => {
    const cx = xE(name), g = svg.append("g");
    g.append("line").attr("x1", cx).attr("x2", cx).attr("y1", yE(0)).attr("y2", yE(eMax[i])).attr("stroke", eLineColors[i]).attr("stroke-width", 1.8);
    g.append("line").attr("x1", cx - 11).attr("x2", cx + 11).attr("y1", yE(eMax[i])).attr("y2", yE(eMax[i])).attr("stroke", eLineColors[i]).attr("stroke-width", 1.8);
    const rows = d3.group(eValues[i], v => Math.floor(v / 21));
    rows.forEach(row => {
        const sorted = row.slice().sort(d3.ascending);
        const offsets = swarmOffsets(sorted.length, Math.min(13, 42 / Math.max(sorted.length - 1, 1)));
        g.append("g").selectAll("circle").data(sorted).join("circle")
            .attr("cx", (d, j) => cx + offsets[j]).attr("cy", d => yE(d)).attr("r", 3.7).attr("fill", eDotColors[i]);
    });
    g.append("line").attr("x1", cx - 22).attr("x2", cx + 22).attr("y1", yE(eMedian[i])).attr("y2", yE(eMedian[i])).attr("stroke", eDotColors[i]).attr("stroke-width", 1.8);
});
title("Citations", 172, 1412, 29, -90);

// F
panelLetter("F", 655, 1306);
const xF = d3.scaleLinear().domain([2000, 2023]).range([782, 1039.3]);
const yFLow = d3.scaleLinear().domain([0, 30]).range([1501.7, 1380.7]);
const yFHigh = d3.scaleLinear().domain([80, 160]).range([1366.7, 1285]);
defs.append("clipPath").attr("id", "fLow").append("rect").attr("x", 782).attr("y", 1380.7).attr("width", 258).attr("height", 130);
defs.append("clipPath").attr("id", "fHigh").append("rect").attr("x", 782).attr("y", 1285).attr("width", 258).attr("height", 81.7);
const fLayers = [[fAsia, pink, 1.5], [fAmericas, teal, 1.5], [fEurope, orange, 1.5], [fOceania, blue, 1.5], [fAfrica, purple, 6]];
[[yFLow, "fLow"], [yFHigh, "fHigh"]].forEach(part => {
    const y = part[0];
    const g = svg.append("g").attr("clip-path", "url(#" + part[1] + ")");
    const area = d3.area().x((d, i) => xF(fYears[i])).y0(y(0)).y1(d => y(d));
    const line = d3.line().x((d, i) => xF(fYears[i])).y(d => y(d));
    fLayers.forEach(layer => {
        g.append("path").datum(layer[0]).attr("d", area).attr("fill", layer[1]);
        g.append("path").datum(layer[0]).attr("d", line).attr("fill", "none").attr("stroke", layer[1]).attr("stroke-width", layer[2]);
    });
});
const fLeftLow = svg.append("g").attr("transform", "translate(764,0)")
    .call(d3.axisLeft(yFLow).tickValues([0,10,20,30]).tickSize(9).tickSizeOuter(0).tickPadding(2));
styleAxis(fLeftLow, 14, 2.6);
const fLeftHigh = svg.append("g").attr("transform", "translate(764,0)")
    .call(d3.axisLeft(yFHigh).tickValues([80,120,160]).tickSize(9).tickSizeOuter(0).tickPadding(2));
styleAxis(fLeftHigh, 14, 2.6);
svg.append("path").attr("d", "M758,1371L770,1364M758,1385L770,1378").attr("stroke", "#000").attr("stroke-width", 2.6);
const fBottom = svg.append("g").attr("transform", "translate(0,1519.3)")
    .call(d3.axisBottom(xF).tickValues(d3.range(2002, 2024, 3)).tickFormat(d3.format("d")).tickSize(9).tickSizeOuter(0).tickPadding(5));
fBottom.select("path.domain").attr("d", "M781,0H1040");
styleAxis(fBottom, 14, 2.6);
title("Publications", 712, 1393, 26.5, -90);
title("Year", 911.7, 1575, 25);
const fLegendColors = {Asia: pink, Europe: orange, Americas: teal, Oceania: blue, Africa: purple};
const fLegendY = d3.scalePoint().domain(fSeries).range([1293.3, 1392]);
svg.append("g").selectAll("rect").data(fSeries).join("rect")
    .attr("x", 782).attr("y", d => fLegendY(d) - 3.5).attr("width", 20).attr("height", 7).attr("fill", d => fLegendColors[d]);
svg.append("g").selectAll("text").data(fSeries).join("text")
    .attr("x", 812.7).attr("y", d => fLegendY(d) + 4.5).attr("font-size", 14.6).attr("fill", "#222").text(d => d);
</script>
</body>
</html>
